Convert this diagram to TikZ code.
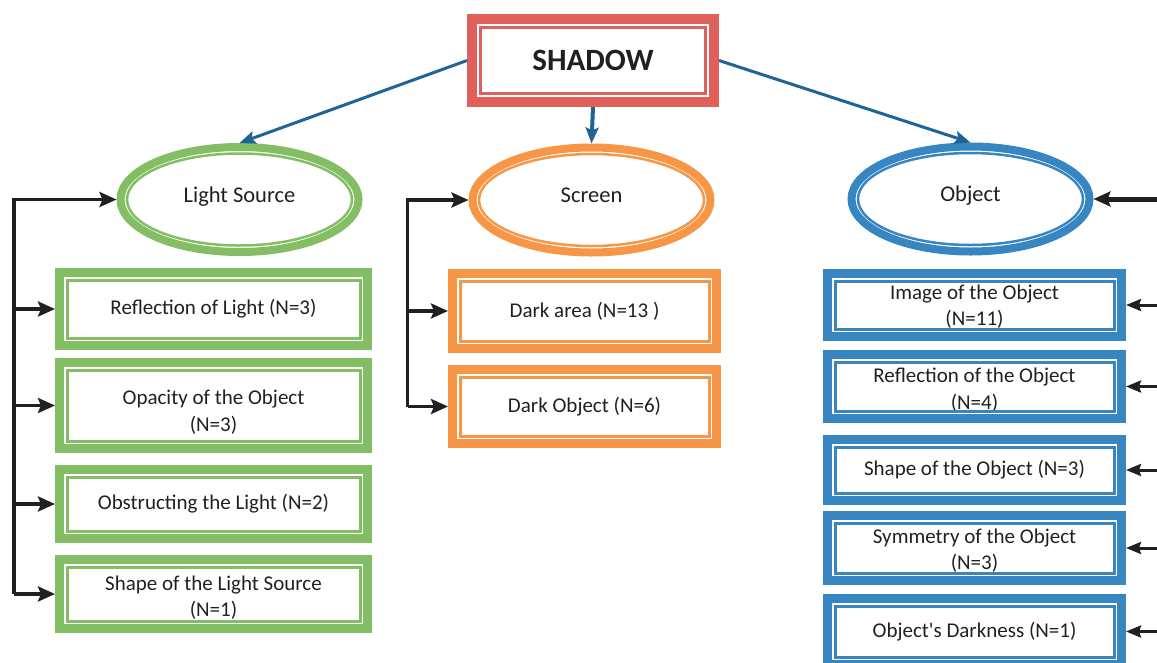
\documentclass[tikz,border=0pt]{standalone}
\usepackage{fontspec}
\setmainfont{Carlito}
\usetikzlibrary{arrows.meta, shapes.geometric}
\tikzset{>={Stealth[length=17pt, width=15pt, inset=3pt]}}

\definecolor{shred}{RGB}{224,96,92}
\definecolor{lsgreen}{RGB}{132,190,100}
\definecolor{scorange}{RGB}{247,150,70}
\definecolor{obblue}{RGB}{55,134,194}
\definecolor{linkblue}{RGB}{31,100,150}
\definecolor{ink}{RGB}{35,31,32}

% two lines of a box, a little lowered
\newcommand{\twolines}[3][-4pt]{\raisebox{#1}[\height][\depth]{\begin{tabular}{@{}c@{}}#2\\#3\end{tabular}}}

\tikzset{
  tagbox/.style={rectangle, draw=#1, line width=9pt, inner sep=0pt, align=center, text=ink, font=\fontsize{21}{26.5}\selectfont},
  topic/.style={ellipse, draw=#1, line width=8pt, inner sep=0pt, minimum width=238pt, minimum height=105pt, text=ink, text height=15pt, text depth=10pt, font=\fontsize{22.5}{26}\selectfont},
  link/.style={->, >={Stealth[length=16pt, width=13pt, inset=3pt]}, linkblue, line width=3pt},
  barrow/.style={->, ink, line width=3.8pt},
}

\begin{document}
\begin{tikzpicture}[x=1pt, y=-1pt]
    \useasboundingbox (0,0) rectangle (1157,662);
    \clip (0,0) rectangle (1157,662);
    % title
    \node[tagbox=shred, line width=10pt, minimum width=242pt, minimum height=83pt, font=\fontsize{31}{36}\selectfont\bfseries] (sh) at (593,60.5) {SHADOW};
    % topics
    \node[topic=lsgreen] (ls) at (239.5,199.5) {Light Source};
    \node[topic=scorange] (sc) at (591.5,200) {Screen};
    \node[topic=obblue] (ob) at (970.5,199) {Object};
    % light source
    \node[tagbox=lsgreen, minimum width=308pt, minimum height=73pt] (g1) at (213.5,309) {Reflection of Light (N=3)};
    \node[tagbox=lsgreen, minimum width=308pt, minimum height=86pt] (g2) at (213.5,405.5) {\twolines[-7pt]{Opacity of the Object}{(N=3)}};
    \node[tagbox=lsgreen, minimum width=308pt, minimum height=69pt] (g3) at (213.5,504) {Obstructing the Light (N=2)};
    \node[tagbox=lsgreen, minimum width=308pt, minimum height=69pt] (g4) at (213.5,594) {\twolines{Shape of the Light Source}{(N=1)}};
    % screen
    \node[tagbox=scorange, minimum width=264pt, minimum height=75pt] (s1) at (584.5,311) {Dark area (N=13 )};
    \node[tagbox=scorange, minimum width=264pt, minimum height=74pt] (s2) at (584.5,406.5) {Dark Object (N=6)};
    % object
    \node[tagbox=obblue, minimum width=294pt, minimum height=63pt] (o1) at (974.5,305) {\twolines[-2pt]{Image of the Object}{(N=11)}};
    \node[tagbox=obblue, minimum width=294pt, minimum height=64pt] (o2) at (974.5,386.5) {\twolines{Reflection of the Object}{(N=4)}};
    \node[tagbox=obblue, minimum width=294pt, minimum height=61pt] (o3) at (974.5,470) {Shape of the Object (N=3)};
    \node[tagbox=obblue, minimum width=294pt, minimum height=65pt] (o4) at (974.5,548) {\twolines[-3pt]{Symmetry of the Object}{(N=3)}};
    \node[tagbox=obblue, minimum width=294pt, minimum height=66pt] (o5) at (974.5,631.5) {Object\textquotesingle s Darkness (N=1)};
    % inner lines
    \draw[shred, line width=3pt] ([shift={(13.5,13.5)}]sh.north west) rectangle ([shift={(-13.5,-13.5)}]sh.south east);
    \foreach \n/\c in {g1/lsgreen, g2/lsgreen, g3/lsgreen, g4/lsgreen, s1/scorange, s2/scorange, o1/obblue, o2/obblue, o3/obblue, o4/obblue, o5/obblue}
        \draw[\c, line width=3pt] ([shift={(12,12)}]\n.north west) rectangle ([shift={(-12,-12)}]\n.south east);
    \foreach \n/\c in {ls/lsgreen, sc/scorange, ob/obblue}
        \draw[\c, line width=2.5pt] (\n.center) ellipse [x radius=112.5, y radius=46];
    % from the title
    \draw[link] (sh.west) -- (ls.north);
    \draw[link, line width=4pt] (sh.south) -- (sc.north);
    \draw[link] (sh.east) -- (ob.north);
    % brackets
    \coordinate (gbar) at (14,199.5);
    \coordinate (sbar) at (407.5,200);
    \coordinate (obar) at (1170,199);
    \draw[barrow] (gbar |- g4.west) |- (ls.west);
    \foreach \b in {g1,g2,g3,g4}
        \draw[barrow] (gbar |- \b.west) -- (\b.west);
    \draw[barrow] (sbar |- s2.west) |- (sc.west);
    \foreach \b in {s1,s2}
        \draw[barrow] (sbar |- \b.west) -- (\b.west);
    \draw[barrow, line width=5pt] (obar) -- (ob.east);
    \foreach \b in {o1,o2,o3,o4,o5}
        \draw[barrow, line width=3pt, >={Stealth[length=15pt, width=12pt, inset=2pt]}] (obar |- \b.east) -- (\b.east);
\end{tikzpicture}
\end{document}
